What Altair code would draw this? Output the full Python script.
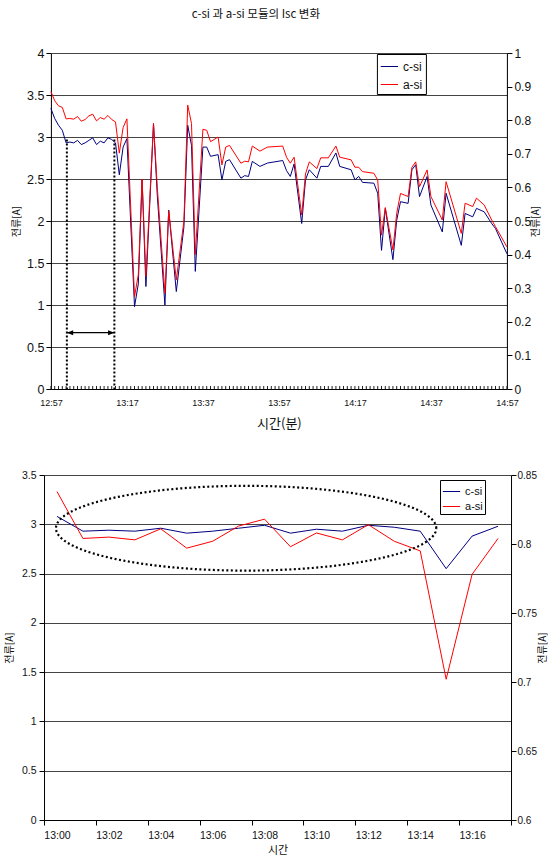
import json
import altair as alt
import numpy as np
import pandas as pd

NUM = "Liberation Sans"
KO = "Noto Sans CJK KR"
TXT = "#111111"
GRID = "#444444"

TITLE = "c-si 과 a-si 모듈의 Isc 변화"
SERIES = ["c-si", "a-si"]
COLORS = ["#000080", "#ff0000"]

# ---------------- top chart data (12:57 - 14:57) ----------------
top_times = ["12:57", "12:58", "12:59", "13:00", "13:01", "13:02", "13:03", "13:04", "13:05",
             "13:06", "13:07", "13:08", "13:09", "13:10", "13:11", "13:12", "13:13", "13:14",
             "13:15", "13:16", "13:17", "13:19", "13:20", "13:21", "13:22", "13:24", "13:25",
             "13:27", "13:28", "13:30", "13:32", "13:33", "13:34", "13:35", "13:37", "13:38",
             "13:39", "13:41", "13:42", "13:43", "13:44", "13:47", "13:48", "13:49", "13:50",
             "13:52", "13:54", "13:58", "13:59", "14:00", "14:01", "14:03", "14:04", "14:05",
             "14:07", "14:08", "14:10", "14:12", "14:13", "14:16", "14:17", "14:18", "14:19",
             "14:22", "14:23", "14:24", "14:25", "14:27", "14:28", "14:29", "14:31", "14:32",
             "14:33", "14:34", "14:36", "14:37", "14:40", "14:41", "14:45", "14:46", "14:48",
             "14:49", "14:51", "14:53", "14:54", "14:57"]
top_csi = [3.34, 3.22, 3.14, 3.08, 2.93, 2.94, 2.93, 2.96, 2.91,
           2.93, 2.96, 2.99, 2.91, 2.95, 2.93, 2.99, 2.97, 2.93,
           2.55, 2.88, 2.98, 0.98, 1.25, 2.49, 1.22, 3.16, 2.30,
           1.00, 2.13, 1.16, 1.93, 3.14, 2.90, 1.40, 2.88, 2.88,
           2.77, 2.79, 2.49, 2.71, 2.73, 2.51, 2.54, 2.53, 2.71,
           2.65, 2.69, 2.72, 2.60, 2.53, 2.68, 1.97, 2.49, 2.61,
           2.51, 2.65, 2.65, 2.81, 2.65, 2.61, 2.49, 2.53, 2.46,
           2.45, 2.33, 1.65, 2.15, 1.54, 2.01, 2.23, 2.21, 2.61,
           2.67, 2.29, 2.53, 2.19, 1.87, 2.33, 1.71, 2.09, 2.05,
           2.15, 2.11, 1.97, 1.91, 1.61]
top_asi = [0.885, 0.858, 0.843, 0.838, 0.804, 0.805, 0.803, 0.811, 0.797,
           0.802, 0.813, 0.818, 0.798, 0.808, 0.803, 0.814, 0.802, 0.795,
           0.702, 0.778, 0.804, 0.275, 0.340, 0.625, 0.335, 0.790, 0.600,
           0.285, 0.530, 0.325, 0.500, 0.845, 0.790, 0.400, 0.773, 0.770,
           0.736, 0.750, 0.667, 0.720, 0.725, 0.672, 0.678, 0.676, 0.723,
           0.708, 0.720, 0.723, 0.690, 0.672, 0.690, 0.518, 0.640, 0.676,
           0.656, 0.688, 0.688, 0.723, 0.690, 0.682, 0.660, 0.660, 0.647,
           0.642, 0.622, 0.458, 0.540, 0.414, 0.523, 0.582, 0.573, 0.660,
           0.676, 0.602, 0.652, 0.573, 0.503, 0.617, 0.463, 0.553, 0.543,
           0.568, 0.548, 0.503, 0.483, 0.423]
top_xlabels = ["12:57", "13:07", "13:17", "13:27", "13:37", "13:47", "13:57",
               "14:07", "14:17", "14:27", "14:37", "14:47", "14:57"]
top_left_ticks = [0, 0.5, 1, 1.5, 2, 2.5, 3, 3.5, 4]
top_right_ticks = [0, 0.1, 0.2, 0.3, 0.4, 0.5, 0.6, 0.7, 0.8, 0.9, 1]

# annotation: dotted markers (minutes after 12:57) and double arrow level
marker_t = [4.2, 16.7]
marker_top = 2.97
arrow_level = 0.67

# ---------------- bottom chart data (13:00 - 13:17) ----------------
bot_cats = ["13:00", "13:01", "13:02", "13:03", "13:04", "13:05", "13:06", "13:07", "13:08",
            "13:09", "13:10", "13:11", "13:12", "13:13", "13:14", "13:15", "13:16", "13:17"]
bot_csi = [3.08, 2.93, 2.94, 2.93, 2.96, 2.91, 2.93, 2.96, 2.99,
           2.91, 2.95, 2.93, 2.99, 2.97, 2.93, 2.55, 2.88, 2.98]
bot_asi = [0.838, 0.804, 0.805, 0.803, 0.811, 0.797, 0.802, 0.813, 0.818,
           0.798, 0.808, 0.803, 0.814, 0.802, 0.795, 0.702, 0.778, 0.804]
bot_left_ticks = [0, 0.5, 1, 1.5, 2, 2.5, 3, 3.5]
bot_right_ticks = [0.6, 0.65, 0.7, 0.75, 0.8, 0.85]

# dotted ellipse annotation (category-index units / amperes)
ell_cx, ell_rx, ell_cy, ell_ry = 7.29, 7.33, 2.96, 0.43


def to_min(s):
    h, m = s.split(":")
    return int(h) * 60 + int(m) - (12 * 60 + 57)


W1, H1 = 456, 336
W2, H2 = 467, 345

color_scale = alt.Scale(domain=SERIES, range=COLORS)

# ================= TOP CHART =================
top_df = pd.DataFrame({"t": [to_min(s) for s in top_times], "csi": top_csi, "asi": top_asi})

x_top = alt.X(
    "t:Q",
    scale=alt.Scale(domain=[0, 120], nice=False, zero=False),
    axis=alt.Axis(
        values=list(range(0, 121, 10)),
        labelExpr=json.dumps(top_xlabels) + "[round(datum.value/10)]",
        ticks=False, grid=False, domainColor="black",
        labelFont=NUM, labelFontSize=9, labelColor=TXT, labelPadding=9,
        labelFlush=False, labelOverlap=False,
        title="시간(분)", titleFont=KO, titleFontSize=13, titleFontWeight="normal",
        titleColor=TXT, titlePadding=10,
    ),
)
y_top_left_scale = alt.Scale(domain=[0, 4], nice=False, zero=False)

top_csi_line = alt.Chart(top_df).transform_calculate(s="'c-si'").mark_line(strokeWidth=1).encode(
    x=x_top,
    y=alt.Y("csi:Q", scale=y_top_left_scale, axis=alt.Axis(
        values=top_left_ticks, format="~g", grid=True, gridColor=GRID, gridWidth=1,
        domainColor="black", tickColor="black", tickSize=5, labelPadding=2,
        labelFont=NUM, labelFontSize=12.5, labelColor=TXT,
        title="전류[A]", titleFont=KO, titleFontSize=10, titleFontWeight="normal",
        titleColor=TXT, titlePadding=5)),
    color=alt.Color("s:N", scale=color_scale, legend=alt.Legend(
        title=None, orient="none", legendX=326, legendY=1, direction="vertical",
        strokeColor="black", fillColor="white", padding=3, symbolType="stroke",
        symbolSize=300, symbolStrokeWidth=1, labelFont=NUM, labelFontSize=12,
        labelColor=TXT, rowPadding=2, labelOffset=4)),
)
top_asi_line = alt.Chart(top_df).transform_calculate(s="'a-si'").mark_line(strokeWidth=1).encode(
    x=alt.X("t:Q"),
    y=alt.Y("asi:Q", scale=alt.Scale(domain=[0, 1], nice=False, zero=False), axis=alt.Axis(
        orient="right", values=top_right_ticks, format="~g", grid=False,
        domainColor="black", tickColor="black", tickSize=5, labelPadding=2,
        labelFont=NUM, labelFontSize=12, labelColor=TXT,
        title="전류[A]", titleFont=KO, titleFontSize=10, titleFontWeight="normal",
        titleColor=TXT, titlePadding=0, titleAngle=270, titleBaseline="top")),
    color=alt.Color("s:N", scale=color_scale),
)

mark_df = pd.DataFrame({"t": marker_t, "top": [marker_top] * len(marker_t), "bot": [0] * len(marker_t)})
top_markers = alt.Chart(mark_df).mark_rule(strokeDash=[2, 2], strokeWidth=2, color="black").encode(
    x="t:Q",
    y=alt.Y("top:Q", scale=y_top_left_scale, axis=None),
    y2="bot:Q",
)
arrow_df = pd.DataFrame({"t": [marker_t[0]], "t2": [marker_t[1]], "v": [arrow_level]})
top_arrow = alt.Chart(arrow_df).mark_rule(strokeWidth=1.3, color="black").encode(
    x="t:Q", x2="t2:Q", y=alt.Y("v:Q", scale=y_top_left_scale, axis=None),
)
head_df = pd.DataFrame({"t": marker_t, "v": [arrow_level] * 2, "side": ["L", "R"]})
head_l = alt.Chart(head_df).transform_filter("datum.side == 'L'").mark_point(
    shape="M0,0L2,-0.8L2,0.8Z", size=40, filled=True, color="black", opacity=1).encode(
    x="t:Q", y=alt.Y("v:Q", scale=y_top_left_scale, axis=None))
head_r = alt.Chart(head_df).transform_filter("datum.side == 'R'").mark_point(
    shape="M0,0L-2,-0.8L-2,0.8Z", size=40, filled=True, color="black", opacity=1).encode(
    x="t:Q", y=alt.Y("v:Q", scale=y_top_left_scale, axis=None))

minute_df = pd.DataFrame({"t": list(range(0, 121))})
top_minute_ticks = alt.Chart(minute_df).mark_rule(strokeWidth=1, color="#222").encode(
    x="t:Q", y=alt.value(H1 - 3), y2=alt.value(H1))

top = alt.layer(
    top_csi_line, top_asi_line, top_markers, top_arrow, head_l, head_r, top_minute_ticks
).resolve_scale(y="independent").properties(
    width=W1, height=H1,
    title=alt.TitleParams(TITLE, font=KO, fontSize=11.5, fontWeight="normal", color=TXT,
                          anchor="middle", dx=-23, offset=27),
)

# ================= BOTTOM CHART =================
bot_df = pd.DataFrame({"i": list(range(len(bot_cats))), "csi": bot_csi, "asi": bot_asi})
n = len(bot_cats)
bounds = [-0.5 + k for k in range(n + 1)]
x_bot = alt.X(
    "i:Q",
    scale=alt.Scale(domain=[-0.5, n - 0.5], nice=False, zero=False),
    axis=alt.Axis(
        values=bounds,
        labelExpr="(datum.value + 0.5) < %d && (datum.value + 0.5) %% 2 == 0 ? %s[datum.value + 0.5] : ''"
        % (n, json.dumps(bot_cats)),
        labelOffset=W2 / n / 2, tickSize=5, tickColor="black", grid=False, domainColor="black",
        labelFont=NUM, labelFontSize=10.5, labelColor=TXT, labelPadding=5,
        labelFlush=False, labelOverlap=False, labelBound=False,
        title="시간", titleFont=KO, titleFontSize=11, titleFontWeight="normal",
        titleColor=TXT, titlePadding=4,
    ),
)
y_bot_left_scale = alt.Scale(domain=[0, 3.5], nice=False, zero=False)

bot_csi_line = alt.Chart(bot_df).transform_calculate(s="'c-si'").mark_line(strokeWidth=1).encode(
    x=x_bot,
    y=alt.Y("csi:Q", scale=y_bot_left_scale, axis=alt.Axis(
        values=bot_left_ticks, format="~g", grid=True, gridColor=GRID, gridWidth=1,
        domainColor="black", tickColor="black", tickSize=5, labelPadding=3,
        labelFont=NUM, labelFontSize=10.5, labelColor=TXT,
        title="전류[A]", titleFont=KO, titleFontSize=10, titleFontWeight="normal",
        titleColor=TXT, titlePadding=7)),
    color=alt.Color("s:N", scale=color_scale, legend=alt.Legend(
        title=None, orient="none", legendX=396, legendY=5, direction="vertical",
        strokeColor="black", fillColor="white", padding=2, symbolType="stroke",
        symbolSize=300, symbolStrokeWidth=1, labelFont=NUM, labelFontSize=11,
        labelColor=TXT, rowPadding=0, labelOffset=4)),
)
bot_asi_line = alt.Chart(bot_df).transform_calculate(s="'a-si'").mark_line(strokeWidth=1).encode(
    x=alt.X("i:Q"),
    y=alt.Y("asi:Q", scale=alt.Scale(domain=[0.6, 0.85], nice=False, zero=False), axis=alt.Axis(
        orient="right", values=bot_right_ticks, format="~g", grid=False,
        domainColor="black", tickColor="black", tickSize=5, labelPadding=1,
        labelFont=NUM, labelFontSize=10, labelColor=TXT,
        title="전류[A]", titleFont=KO, titleFontSize=10, titleFontWeight="normal",
        titleColor=TXT, titlePadding=1, titleAngle=270, titleBaseline="top")),
    color=alt.Color("s:N", scale=color_scale),
)

theta = np.linspace(0, 2 * np.pi, 145)
ell_df = pd.DataFrame({
    "x": ell_cx + ell_rx * np.cos(theta),
    "y": ell_cy + ell_ry * np.sin(theta),
    "o": np.arange(len(theta)),
})
bot_ellipse = alt.Chart(ell_df).mark_line(strokeDash=[2, 2.5], strokeWidth=2.2, color="black").encode(
    x="x:Q", y=alt.Y("y:Q", scale=y_bot_left_scale, axis=None), order="o:Q")

bottom = alt.layer(bot_csi_line, bot_asi_line, bot_ellipse).resolve_scale(
    y="independent").properties(width=W2, height=H2)

chart = alt.vconcat(top, bottom, spacing=38, center=True).resolve_scale(
    x="independent", y="independent", color="independent"
).resolve_legend(color="independent").properties(
    padding={"left": 3, "top": 8, "right": 0, "bottom": 0}
).configure_view(stroke=None).configure(background="white")

chart.save("out.html", embed_options={"renderer": "svg", "actions": False})
